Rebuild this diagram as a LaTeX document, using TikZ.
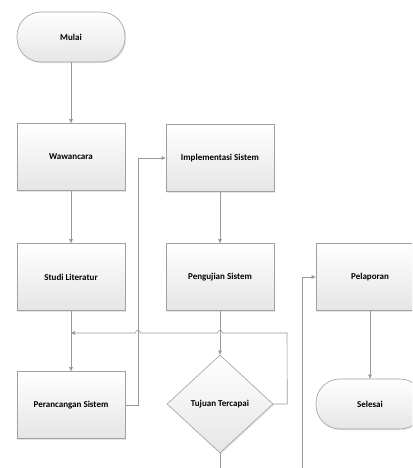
\documentclass[tikz,border=0pt]{standalone}
\usepackage{fontspec}
\setmainfont{Carlito}
\usetikzlibrary{arrows.meta,shadows,shapes.geometric}
\begin{document}
\begin{tikzpicture}[x=1pt,y=-1pt,
  box/.style={draw=gray!75, line width=0.6pt, top color=white, bottom color=gray!20,
    font=\bfseries\fontsize{9}{11}\selectfont, inner sep=2pt,
    drop shadow={opacity=0.2, shadow xshift=1.2pt, shadow yshift=-1.2pt}},
  proc/.style={box, minimum width=108pt, minimum height=67pt},
  term/.style={box, rounded corners=24pt, minimum width=108pt, minimum height=50pt},
  dec/.style={box, diamond, minimum width=106pt, minimum height=98pt, inner sep=0pt},
  conn/.style={draw=gray!80, line width=0.6pt, -{Triangle[length=4pt,width=3.5pt]}},
  plain/.style={draw=gray!80, line width=0.6pt}]
\useasboundingbox (0,0) rectangle (412,468);
\clip (0,0) rectangle (412,468);
\node[term] (mulai) at (71,37) {Mulai};
\node[proc] (waw) at (71,157) {Wawancara};
\node[proc] (studi) at (71,277) {Studi Literatur};
\node[proc] (peran) at (71,405) {Perancangan Sistem};
\node[proc] (impl) at (220,158) {Implementasi Sistem};
\node[proc] (peng) at (220,277) {Pengujian Sistem};
\node[dec] (tuj) at (220,404) {Tujuan Tercapai};
\node[proc] (pel) at (370,277) {Pelaporan};
\node[term] (sel) at (370,404) {Selesai};
\coordinate (j1) at (71,333);
\coordinate (b1) at (302,475);
\coordinate (b2) at (220,475);
\draw[conn] (mulai) -- (waw);
\draw[conn] (waw) -- (studi);
\draw[conn] (studi) -- (peran);
\draw[conn] (peran.east) -- ++(13,0) |- (impl.west);
\draw[conn] (impl) -- (peng);
\draw[conn] (peng) -- (tuj);
\draw[conn] (tuj.east) -- ++(14,0) -- (287,333) -- (222.5,333)
  .. controls (222.5,329.5) and (217.5,329.5) .. (217.5,333) -- (140.5,333)
  .. controls (140.5,329.5) and (135.5,329.5) .. (135.5,333) -- (j1);
\draw[conn] (b1) |- (pel.west);
\draw[plain] (tuj.south) -- (b2);
\draw[conn] (pel) -- (sel);
\end{tikzpicture}
\end{document}
